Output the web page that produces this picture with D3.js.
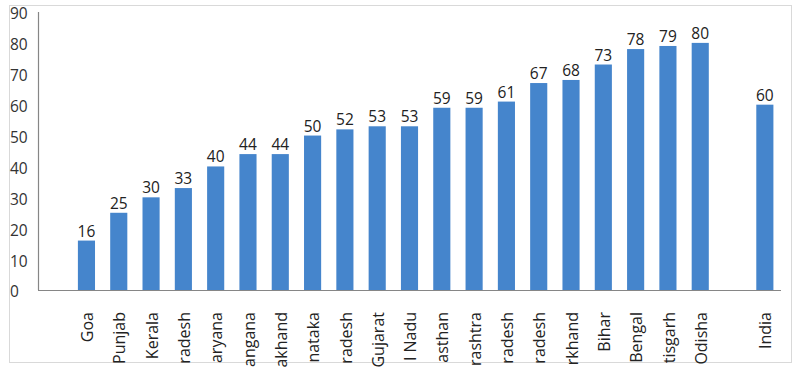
<!DOCTYPE html>
<html>
<head>
<meta charset="utf-8">
<script src="https://cdn.jsdelivr.net/npm/d3@7"></script>
<style>
  html, body { margin: 0; padding: 0; background: #fff; }
  svg { display: block; }
  text { font-family: "Open Sans", "Noto Sans", sans-serif; }
</style>
</head>
<body>
<svg id="chart" width="797" height="380"></svg>
<script>
// category labels as they appear (cut off at the bottom in the source picture)
const categories = ["Goa", "Punjab", "Kerala", "radesh", "aryana", "angana",
  "akhand", "nataka", "radesh", "Gujarat", "l Nadu", "asthan",
  "rashtra", "radesh", "radesh", "rkhand", "Bihar", "Bengal",
  "tisgarh", "Odisha", "India"];
const values = [16, 25, 30, 33, 40, 44, 44, 50, 52, 53, 53, 59, 59, 61, 67, 68, 73, 78, 79, 80, 60];
const yTicks = [0, 10, 20, 30, 40, 50, 60, 70, 80, 90];

const data = categories.map((c, i) => ({ key: "c" + i, name: c, value: values[i] }));

const svg = d3.select("#chart");
const plot = { left: 38, right: 781, top: 12, bottom: 290 };

// band domain: an empty slot at the start and a gap slot before the last (India)
const keys = data.map(d => d.key);
const domain = ["gap0", ...keys.slice(0, keys.length - 1), "gap1", keys[keys.length - 1]];

const x = d3.scaleBand().domain(domain).range([plot.left, plot.right]).paddingInner(0.47).paddingOuter(0.235);
const y = d3.scaleLinear().domain([0, 90]).range([plot.bottom, plot.top]);

// outer frame
svg.append("rect")
  .attr("x", 9.5).attr("y", 5.5).attr("width", 782).attr("height", 357)
  .attr("fill", "none").attr("stroke", "#d9d9d9").attr("stroke-width", 1);

// bars
svg.append("g").selectAll("rect").data(data).join("rect")
  .attr("x", d => x(d.key))
  .attr("y", d => y(d.value))
  .attr("width", x.bandwidth())
  .attr("height", d => y(0) - y(d.value))
  .attr("fill", "#4585cc");

// value labels
svg.append("g").selectAll("text").data(data).join("text")
  .attr("x", d => x(d.key) + x.bandwidth() / 2)
  .attr("y", d => y(d.value) - 4)
  .attr("text-anchor", "middle")
  .attr("font-size", 15.5)
  .attr("fill", "#222")
  .text(d => d.value);

// axis lines
svg.append("line")
  .attr("x1", plot.left + 0.5).attr("x2", plot.left + 0.5)
  .attr("y1", plot.top).attr("y2", plot.bottom)
  .attr("stroke", "#868686").attr("stroke-width", 1.2);
svg.append("line")
  .attr("x1", plot.left).attr("x2", plot.right)
  .attr("y1", plot.bottom + 0.5).attr("y2", plot.bottom + 0.5)
  .attr("stroke", "#868686").attr("stroke-width", 1.2);

// y tick labels
svg.append("g").selectAll("text").data(yTicks).join("text")
  .attr("x", 10)
  .attr("y", d => y(d) + 2)
  .attr("dy", "0.35em")
  .attr("text-anchor", "start")
  .attr("font-size", 15.5)
  .attr("fill", "#333")
  .text(d => d);

// x labels rotated
svg.append("g")
  .selectAll("text").data(data).join("text")
  .attr("transform", d => `translate(${x(d.key) + x.bandwidth() / 2 + 1},312) rotate(-90)`)
  .attr("dy", "0.35em")
  .attr("text-anchor", "end")
  .attr("font-size", 16)
  .attr("fill", "#222")
  .text(d => d.name);
</script>
</body>
</html>
